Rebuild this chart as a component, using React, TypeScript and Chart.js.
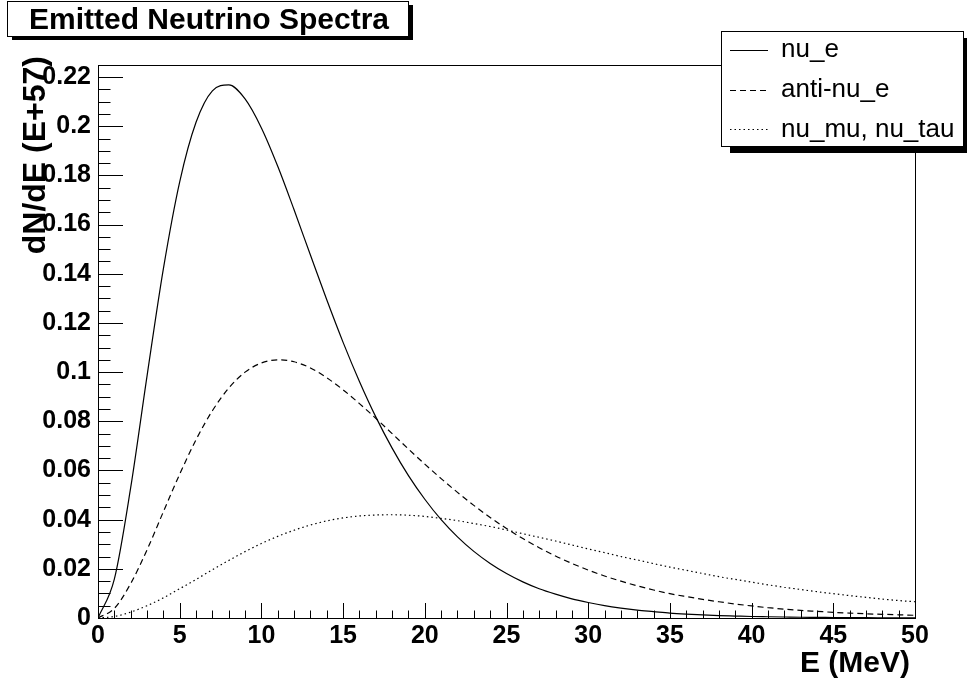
import React, { useEffect, useRef } from "react";
import { Chart, registerables } from "chart.js";

Chart.register(...registerables);

// ---- data ----
const ENERGY_MEV = [
  0, 1, 2, 3, 4, 5, 6, 7, 8, 9, 10, 11, 12, 13, 14, 15, 16, 17, 18, 19, 20,
  21, 22, 23, 24, 25, 26, 27, 28, 29, 30, 31, 32, 33, 34, 35, 36, 37, 38, 39, 40,
  41, 42, 43, 44, 45, 46, 47, 48, 49, 50,
];
const NU_E = [
  0, 0.0158, 0.053, 0.0984, 0.142, 0.1774, 0.2016, 0.2144, 0.2168, 0.2111, 0.1993,
  0.1837, 0.166, 0.1476, 0.1294, 0.1121, 0.0962, 0.0818, 0.0691, 0.0579, 0.0483,
  0.04, 0.033, 0.0271, 0.0222, 0.0181, 0.0147, 0.0119, 0.0097, 0.0078, 0.0063,
  0.005, 0.004, 0.0032, 0.0026, 0.002, 0.0016, 0.0013, 0.001, 0.0008, 0.0006,
  0.0005, 0.0004, 0.0003, 0.00025, 0.0002, 0.00015, 0.00012, 0.0001, 0.00007, 0.00005,
];
const ANTI_NU_E = [
  0, 0.0039, 0.014, 0.0277, 0.0432, 0.0585, 0.0725, 0.0843, 0.0935, 0.1, 0.1037,
  0.105, 0.1042, 0.1017, 0.0977, 0.0928, 0.0872, 0.0812, 0.075, 0.0687, 0.0626,
  0.0567, 0.0511, 0.0458, 0.0409, 0.0364, 0.0323, 0.0286, 0.0252, 0.0222, 0.0195,
  0.0171, 0.015, 0.0131, 0.0114, 0.0099, 0.0087, 0.0076, 0.0066, 0.0057, 0.0049,
  0.0042, 0.0036, 0.0031, 0.0027, 0.0023, 0.002, 0.0017, 0.0015, 0.0013, 0.0011,
];
const NU_MU_TAU = [
  0, 0.0006, 0.0024, 0.005, 0.0082, 0.0119, 0.0157, 0.0196, 0.0234, 0.027, 0.0303,
  0.0332, 0.0357, 0.0378, 0.0395, 0.0407, 0.0415, 0.0419, 0.042, 0.0418, 0.0413,
  0.0405, 0.0396, 0.0384, 0.0372, 0.0358, 0.0343, 0.0328, 0.0313, 0.0297, 0.0281,
  0.0266, 0.025, 0.0236, 0.0221, 0.0207, 0.0194, 0.0181, 0.0168, 0.0157, 0.0146,
  0.0135, 0.0125, 0.0116, 0.0107, 0.0099, 0.0091, 0.0084, 0.0077, 0.0071, 0.0066,
];
const SERIES_LABELS = ["nu_e", "anti-nu_e", "nu_mu, nu_tau"];
const SERIES_VALUES = [NU_E, ANTI_NU_E, NU_MU_TAU];
const SERIES_DASH = [[], [6, 4], [1.5, 3]];

const X_MIN = 0;
const X_MAX = 50;
const X_MAJOR = 5;
const X_MINOR = 1;
const Y_MIN = 0;
const Y_MAX = 0.2249;
const Y_MAJOR = 0.02;
const Y_MINOR = 0.005;

const TITLE = "Emitted Neutrino Spectra";
const X_TITLE = "E (MeV)";
const Y_TITLE = "dN/dE (E+57)";

const FONT = '"Liberation Sans", Arial, Helvetica, sans-serif';

const decorPlugin = {
  id: "rootDecor",
  afterDraw(chart: any) {
    const { ctx, chartArea } = chart;
    const { left, right, top, bottom } = chartArea;
    const xs = chart.scales.x;
    const ys = chart.scales.y;
    ctx.save();
    ctx.strokeStyle = "#000";
    ctx.fillStyle = "#000";
    ctx.lineWidth = 1;
    // frame
    ctx.strokeRect(Math.round(left) + 0.5, Math.round(top) + 0.5, Math.round(right - left), Math.round(bottom - top));
    // x ticks
    const nx = Math.round((X_MAX - X_MIN) / X_MINOR);
    const perX = Math.round(X_MAJOR / X_MINOR);
    ctx.beginPath();
    for (let i = 0; i <= nx; i++) {
      const v = X_MIN + i * X_MINOR;
      const px = Math.round(xs.getPixelForValue(v)) + 0.5;
      const len = i % perX === 0 ? 15 : 7.5;
      ctx.moveTo(px, bottom);
      ctx.lineTo(px, bottom - len);
    }
    // y ticks
    const perY = Math.round(Y_MAJOR / Y_MINOR);
    for (let i = 0; Y_MIN + i * Y_MINOR <= Y_MAX + 1e-9; i++) {
      const v = Y_MIN + i * Y_MINOR;
      const py = Math.round(ys.getPixelForValue(v)) + 0.5;
      const len = i % perY === 0 ? 25 : 12.5;
      ctx.moveTo(left, py);
      ctx.lineTo(left + len, py);
    }
    ctx.stroke();

    // axis titles
    ctx.font = `bold 30px ${FONT}`;
    ctx.textAlign = "right";
    ctx.textBaseline = "alphabetic";
    ctx.fillText(X_TITLE, right - 5, 672);
    ctx.save();
    ctx.translate(45, top - 9);
    ctx.rotate(-Math.PI / 2);
    ctx.font = `bold 32px ${FONT}`;
    ctx.textAlign = "left";
    ctx.fillText(Y_TITLE, -(ctx.measureText(Y_TITLE).width), 0);
    ctx.restore();

    // title box with shadow
    ctx.fillStyle = "#000";
    ctx.fillRect(12, 5, 401, 35);
    ctx.fillStyle = "#fff";
    ctx.fillRect(7, 1, 402, 35);
    ctx.strokeStyle = "#000";
    ctx.strokeRect(7.5, 1.5, 401, 35);
    ctx.fillStyle = "#000";
    ctx.font = `bold 30px ${FONT}`;
    ctx.textAlign = "center";
    ctx.fillText(TITLE, 209, 29);

    // legend box with shadow
    ctx.fillStyle = "#000";
    ctx.fillRect(730, 38, 237, 115);
    ctx.fillStyle = "#fff";
    ctx.fillRect(721, 31, 243, 116);
    ctx.strokeRect(721.5, 31.5, 242, 115);
    ctx.font = `26px ${FONT}`;
    ctx.textAlign = "left";
    const rowY = [50.5, 90.5, 129.5];
    const baseY = [57, 97, 137];
    SERIES_LABELS.forEach((lab, i) => {
      ctx.save();
      ctx.setLineDash(SERIES_DASH[i]);
      ctx.lineWidth = 1;
      ctx.beginPath();
      ctx.moveTo(730, rowY[i]);
      ctx.lineTo(768, rowY[i]);
      ctx.stroke();
      ctx.restore();
      ctx.fillStyle = "#000";
      ctx.fillText(lab, 781, baseY[i]);
    });
    ctx.restore();
  },
};

export default function App() {
  const canvasRef = useRef<HTMLCanvasElement | null>(null);

  useEffect(() => {
    const canvas = canvasRef.current;
    if (!canvas) return;
    const datasets = SERIES_VALUES.map((vals, i) => ({
      label: SERIES_LABELS[i],
      data: ENERGY_MEV.map((e, j) => ({ x: e, y: vals[j] })),
      borderColor: "#000",
      backgroundColor: "#000",
      borderWidth: 1.2,
      borderDash: SERIES_DASH[i],
      pointRadius: 0,
      fill: false,
      cubicInterpolationMode: "monotone" as const,
    }));
    const chart = new Chart(canvas, {
      type: "line",
      data: { datasets },
      options: {
        responsive: false,
        animation: false,
        devicePixelRatio: 1,
        layout: { padding: { left: 8, top: 65, right: 52, bottom: 8 } },
        plugins: { legend: { display: false }, title: { display: false }, tooltip: { enabled: false } },
        scales: {
          x: {
            type: "linear",
            min: X_MIN,
            max: X_MAX,
            grid: { display: false, drawTicks: false },
            border: { display: false },
            ticks: {
              stepSize: X_MAJOR,
              color: "#000",
              padding: 3,
              maxRotation: 0,
              autoSkip: false,
              includeBounds: false,
              font: { family: FONT, size: 25, weight: "bold" },
            },
            afterFit: (scale: any) => {
              scale.height = 58;
            },
          },
          y: {
            type: "linear",
            min: Y_MIN,
            max: Y_MAX,
            grid: { display: false, drawTicks: false },
            border: { display: false },
            ticks: {
              stepSize: Y_MAJOR,
              color: "#000",
              padding: 7,
              autoSkip: false,
              includeBounds: false,
              font: { family: FONT, size: 25, weight: "bold" },
              callback: (v: any) => String(parseFloat(Number(v).toFixed(3))),
            },
            afterFit: (scale: any) => {
              scale.width = 90;
            },
          },
        },
      },
      plugins: [decorPlugin],
    });
    return () => chart.destroy();
  }, []);

  return (
    <div style={{ position: "absolute", left: 0, top: 0, width: 967, height: 684, background: "#fff" }}>
      <canvas ref={canvasRef} width={967} height={684} style={{ display: "block" }} />
    </div>
  );
}
